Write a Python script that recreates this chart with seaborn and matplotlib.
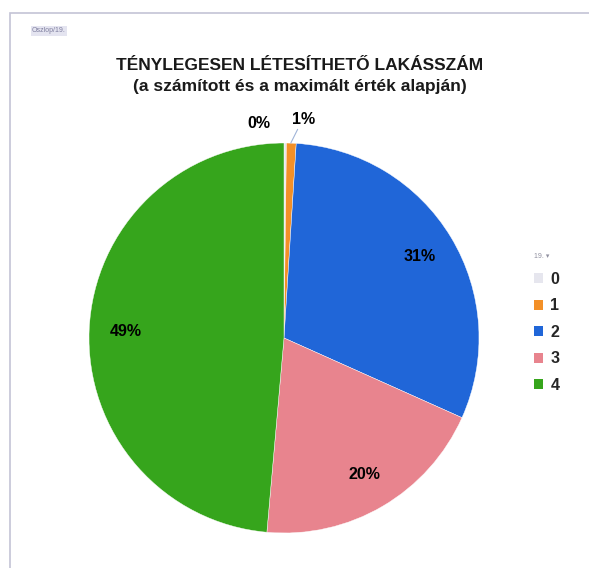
import matplotlib as mpl
mpl.use('Agg')
import matplotlib.pyplot as plt
from matplotlib.patches import Rectangle
import seaborn as sns

# data
categories = ['0', '1', '2', '3', '4']
shares = [0.2, 0.8, 30.7, 19.7, 48.6]
colors = ['#e6e6ee', '#f39028', '#2066d8', '#e8848e', '#36a51c']
title = 'TÉNYLEGESEN LÉTESÍTHETŐ LAKÁSSZÁM\n(a számított és a maximált érték alapján)'

sns.set_theme(style='white')
plt.rcParams['font.family'] = ['Liberation Sans', 'DejaVu Sans']

fig = plt.figure(figsize=(5.89, 5.68), dpi=100)
fig.patch.set_facecolor('white')

# outer frame of the chart area
fig.add_artist(Rectangle((10 / 589, -0.05), 1.0, 1 - 13 / 568 + 0.05,
                         transform=fig.transFigure, fill=False,
                         edgecolor='#c4c4d6', linewidth=1.2))
fig.text(32 / 589, 1 - 31 / 568, 'Oszlop/19.', fontsize=5, color='#8080a0',
         ha='left', va='center',
         bbox=dict(facecolor='#e4e4f0', edgecolor='none', pad=1))

fig.text(300 / 589, 1 - 76 / 568, title, ha='center', va='center',
         fontsize=12.5, fontweight='bold', color='#1a1a1a', linespacing=1.45)

ax = fig.add_axes([89 / 589, 35 / 568, 390 / 589, 390 / 568])
wedges, texts, autotexts = ax.pie(
    shares, colors=colors, startangle=90, counterclock=False,
    autopct='%.0f%%', pctdistance=0.81,
    wedgeprops=dict(linewidth=0.3, edgecolor='white'),
    textprops=dict(fontsize=11.5, fontweight='bold', color='black'))
ax.set_xlim(-1, 1)
ax.set_ylim(-1, 1)
ax.set_aspect('equal')

# the two tiny slices get their labels outside the pie
autotexts[0].set_position((-0.13, 1.10))
autotexts[1].set_position((0.10, 1.12))
for t in autotexts:
    t.set_clip_on(False)
ax.plot([0.035, 0.07], [1.0, 1.07], color='#a0b4d8', linewidth=0.8,
        clip_on=False)

handles = [Rectangle((0, 0), 1, 1, facecolor=c, edgecolor='none') for c in colors]
leg = fig.legend(handles, categories, loc='upper left',
                 bbox_to_anchor=(520 / 589, 1 - 239 / 568),
                 frameon=False, handlelength=0.55, handleheight=0.55,
                 handletextpad=0.45, labelspacing=0.72,
                 title='19. ▾', title_fontsize=5,
                 prop=dict(size=11.5, weight='bold'))
leg.get_title().set_color('#9090a0')
leg._legend_box.align = 'left'

fig.savefig('out.png', dpi=100, facecolor='white')
